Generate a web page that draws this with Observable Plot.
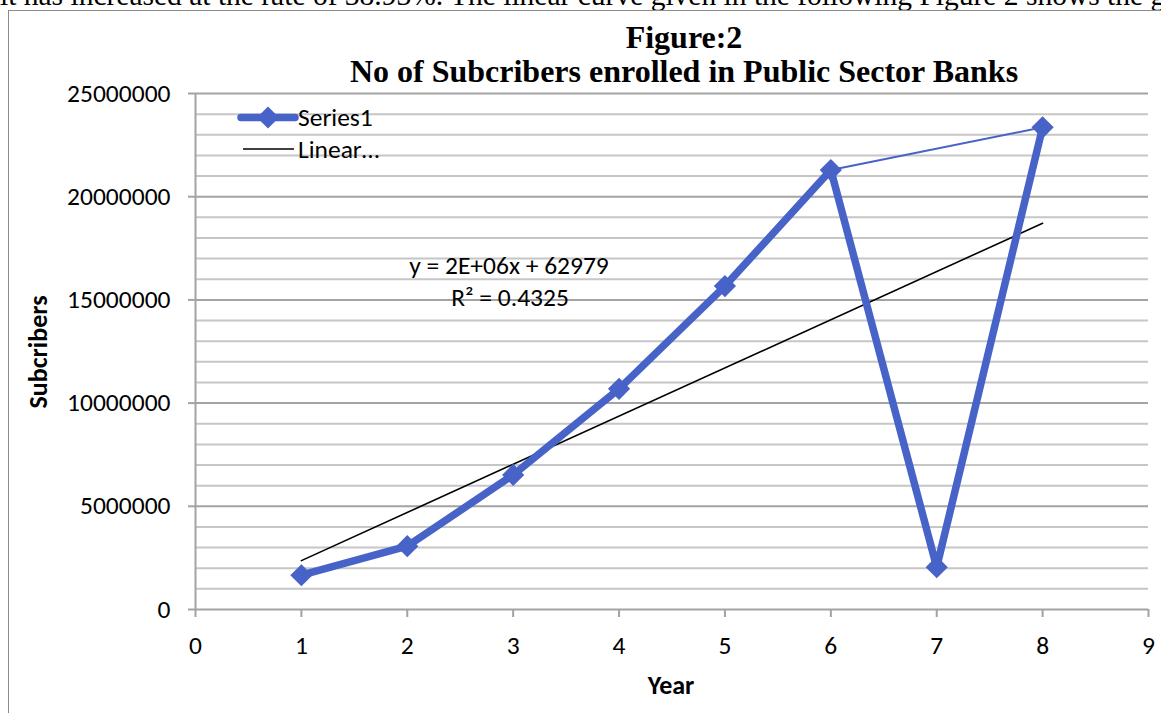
<!DOCTYPE html>
<html>
<head>
<meta charset="utf-8">
<script src="https://cdn.jsdelivr.net/npm/d3@7"></script>
<script src="https://cdn.jsdelivr.net/npm/@observablehq/plot@0.6"></script>
<style>
  html, body { margin: 0; padding: 0; background: #fff; overflow: hidden; }
  #page { position: relative; width: 1161px; height: 713px; overflow: hidden; }
  .body-text { position: absolute; left: 0; top: -20px; white-space: nowrap;
    font-family: "Liberation Serif", "Times New Roman", serif; font-size: 29.5px; line-height: 30px; color: #000; }
  .frame { position: absolute; left: 8px; top: 10px; width: 1300px; height: 900px; border: 1.5px solid #8c8c8c; }
  .title { position: absolute; left: 0; width: 1368px; text-align: center; line-height: 34px;
    font-family: "Liberation Serif", "Times New Roman", serif; font-weight: bold; font-size: 32px; color: #000; }
  .ylab { position: absolute; left: 38px; top: 352px; transform: translate(-50%, -50%) rotate(-90deg);
    font-family: Calibri, Carlito, Lato, sans-serif; font-weight: bold; font-size: 26px; white-space: nowrap; }
  .xlab { position: absolute; left: 671px; top: 685px; transform: translate(-50%, -50%);
    font-family: Calibri, Carlito, Lato, sans-serif; font-weight: bold; font-size: 26px; }
  #chart { position: absolute; left: 0; top: 0; }
</style>
</head>
<body>
<div id="page">
  <div class="body-text">it has increased at the rate of 38.93%. The linear curve given in the following Figure 2 shows the growth</div>
  <div class="frame"></div>
  <div class="title" style="top:20px;">Figure:2</div>
  <div class="title" style="top:54px;">No of Subcribers enrolled in Public Sector Banks</div>
  <div class="ylab">Subcribers</div>
  <div class="xlab">Year</div>
  <div id="chart"></div>
</div>
<script>
// Subscribers enrolled per year
const years = [1, 2, 3, 4, 5, 6, 7, 8];
const subscribers = [1660000, 3070000, 6520000, 10690000, 15670000, 21290000, 2050000, 23360000];

// Extra thin segment drawn between these two years
const connectorYears = [6, 8];

// Axis ticks
const xTicks = [0, 1, 2, 3, 4, 5, 6, 7, 8, 9];
const yTicks = [0, 5000000, 10000000, 15000000, 20000000, 25000000];
const minorTicks = [1e6, 2e6, 3e6, 4e6, 6e6, 7e6, 8e6, 9e6, 11e6, 12e6, 13e6, 14e6,
                    16e6, 17e6, 18e6, 19e6, 21e6, 22e6, 23e6, 24e6];

// Trendline text
const equationText = "y = 2E+06x + 62979";
const r2Text = "R² = 0.4325";

const series = years.map((year, i) => ({year, value: subscribers[i]}));
const connector = series.filter(d => connectorYears.includes(d.year));

// Least-squares linear trend over the series
const mx = d3.mean(series, d => d.year);
const my = d3.mean(series, d => d.value);
const slope = d3.sum(series, d => (d.year - mx) * (d.value - my)) / d3.sum(series, d => (d.year - mx) ** 2);
const intercept = my - slope * mx;
const trend = [d3.min(years), d3.max(years)].map(year => ({year, value: intercept + slope * year}));

const blue = "#4763c8";
const font = "Calibri, Carlito, Lato, sans-serif";
const fs = 25.5;

const chart = Plot.plot({
  width: 1161,
  height: 713,
  marginLeft: 195,
  marginRight: 13,
  marginTop: 93,
  marginBottom: 104,
  x: {domain: [0, 9]},
  y: {domain: [0, 25000000]},
  style: {fontFamily: font, fontSize: fs + "px", color: "#000", background: "transparent"},
  marks: [
    Plot.ruleY(minorTicks, {stroke: "#c6c6c6", strokeWidth: 2}),
    Plot.ruleY(yTicks, {stroke: "#a3a3a3", strokeWidth: 2}),
    Plot.ruleX([0], {stroke: "#a3a3a3", strokeWidth: 2}),
    Plot.axisY({ticks: yTicks, tickSize: 7, tickPadding: 18, tickFormat: d => String(d),
      stroke: "#a3a3a3", strokeWidth: 2, label: null, fontSize: fs}),
    Plot.axisX({ticks: xTicks, tickSize: 8, tickPadding: 18, tickFormat: d => String(d),
      stroke: "#a3a3a3", strokeWidth: 2, label: null, fontSize: fs}),
    Plot.line(trend, {x: "year", y: "value", stroke: "#000", strokeWidth: 1.6}),
    Plot.line(series, {x: "year", y: "value", stroke: blue, strokeWidth: 7.5, strokeLinejoin: "miter"}),
    Plot.line(connector, {x: "year", y: "value", stroke: blue, strokeWidth: 2}),
    Plot.dot(series, {x: "year", y: "value", symbol: "diamond2", r: 10, fill: blue, stroke: "none"})
  ]
});

// Legend and trendline label drawn into the chart svg
const svg = d3.select(chart);
const legend = svg.append("g").attr("font-family", font).attr("font-size", fs).attr("text-anchor", "start");
legend.append("line").attr("x1", 241).attr("x2", 295).attr("y1", 117.5).attr("y2", 117.5)
  .attr("stroke", blue).attr("stroke-width", 7.5).attr("stroke-linecap", "round");
legend.append("path").attr("d", d3.symbol(d3.symbolDiamond2, Math.PI * 10 * 10)())
  .attr("transform", "translate(268,117.5)").attr("fill", blue);
legend.append("text").attr("x", 298).attr("y", 117.5).attr("dy", "0.35em").text("Series1");
legend.append("line").attr("x1", 243).attr("x2", 294).attr("y1", 149).attr("y2", 149)
  .attr("stroke", "#000").attr("stroke-width", 1.6);
legend.append("text").attr("x", 298).attr("y", 149).attr("dy", "0.35em").text("Linear…");

const label = svg.append("g").attr("font-family", font).attr("font-size", fs).attr("text-anchor", "middle");
label.append("text").attr("x", 509).attr("y", 265).attr("dy", "0.35em").text(equationText);
label.append("text").attr("x", 510).attr("y", 297).attr("dy", "0.35em").text(r2Text);

document.getElementById("chart").append(chart);
</script>
</body>
</html>
